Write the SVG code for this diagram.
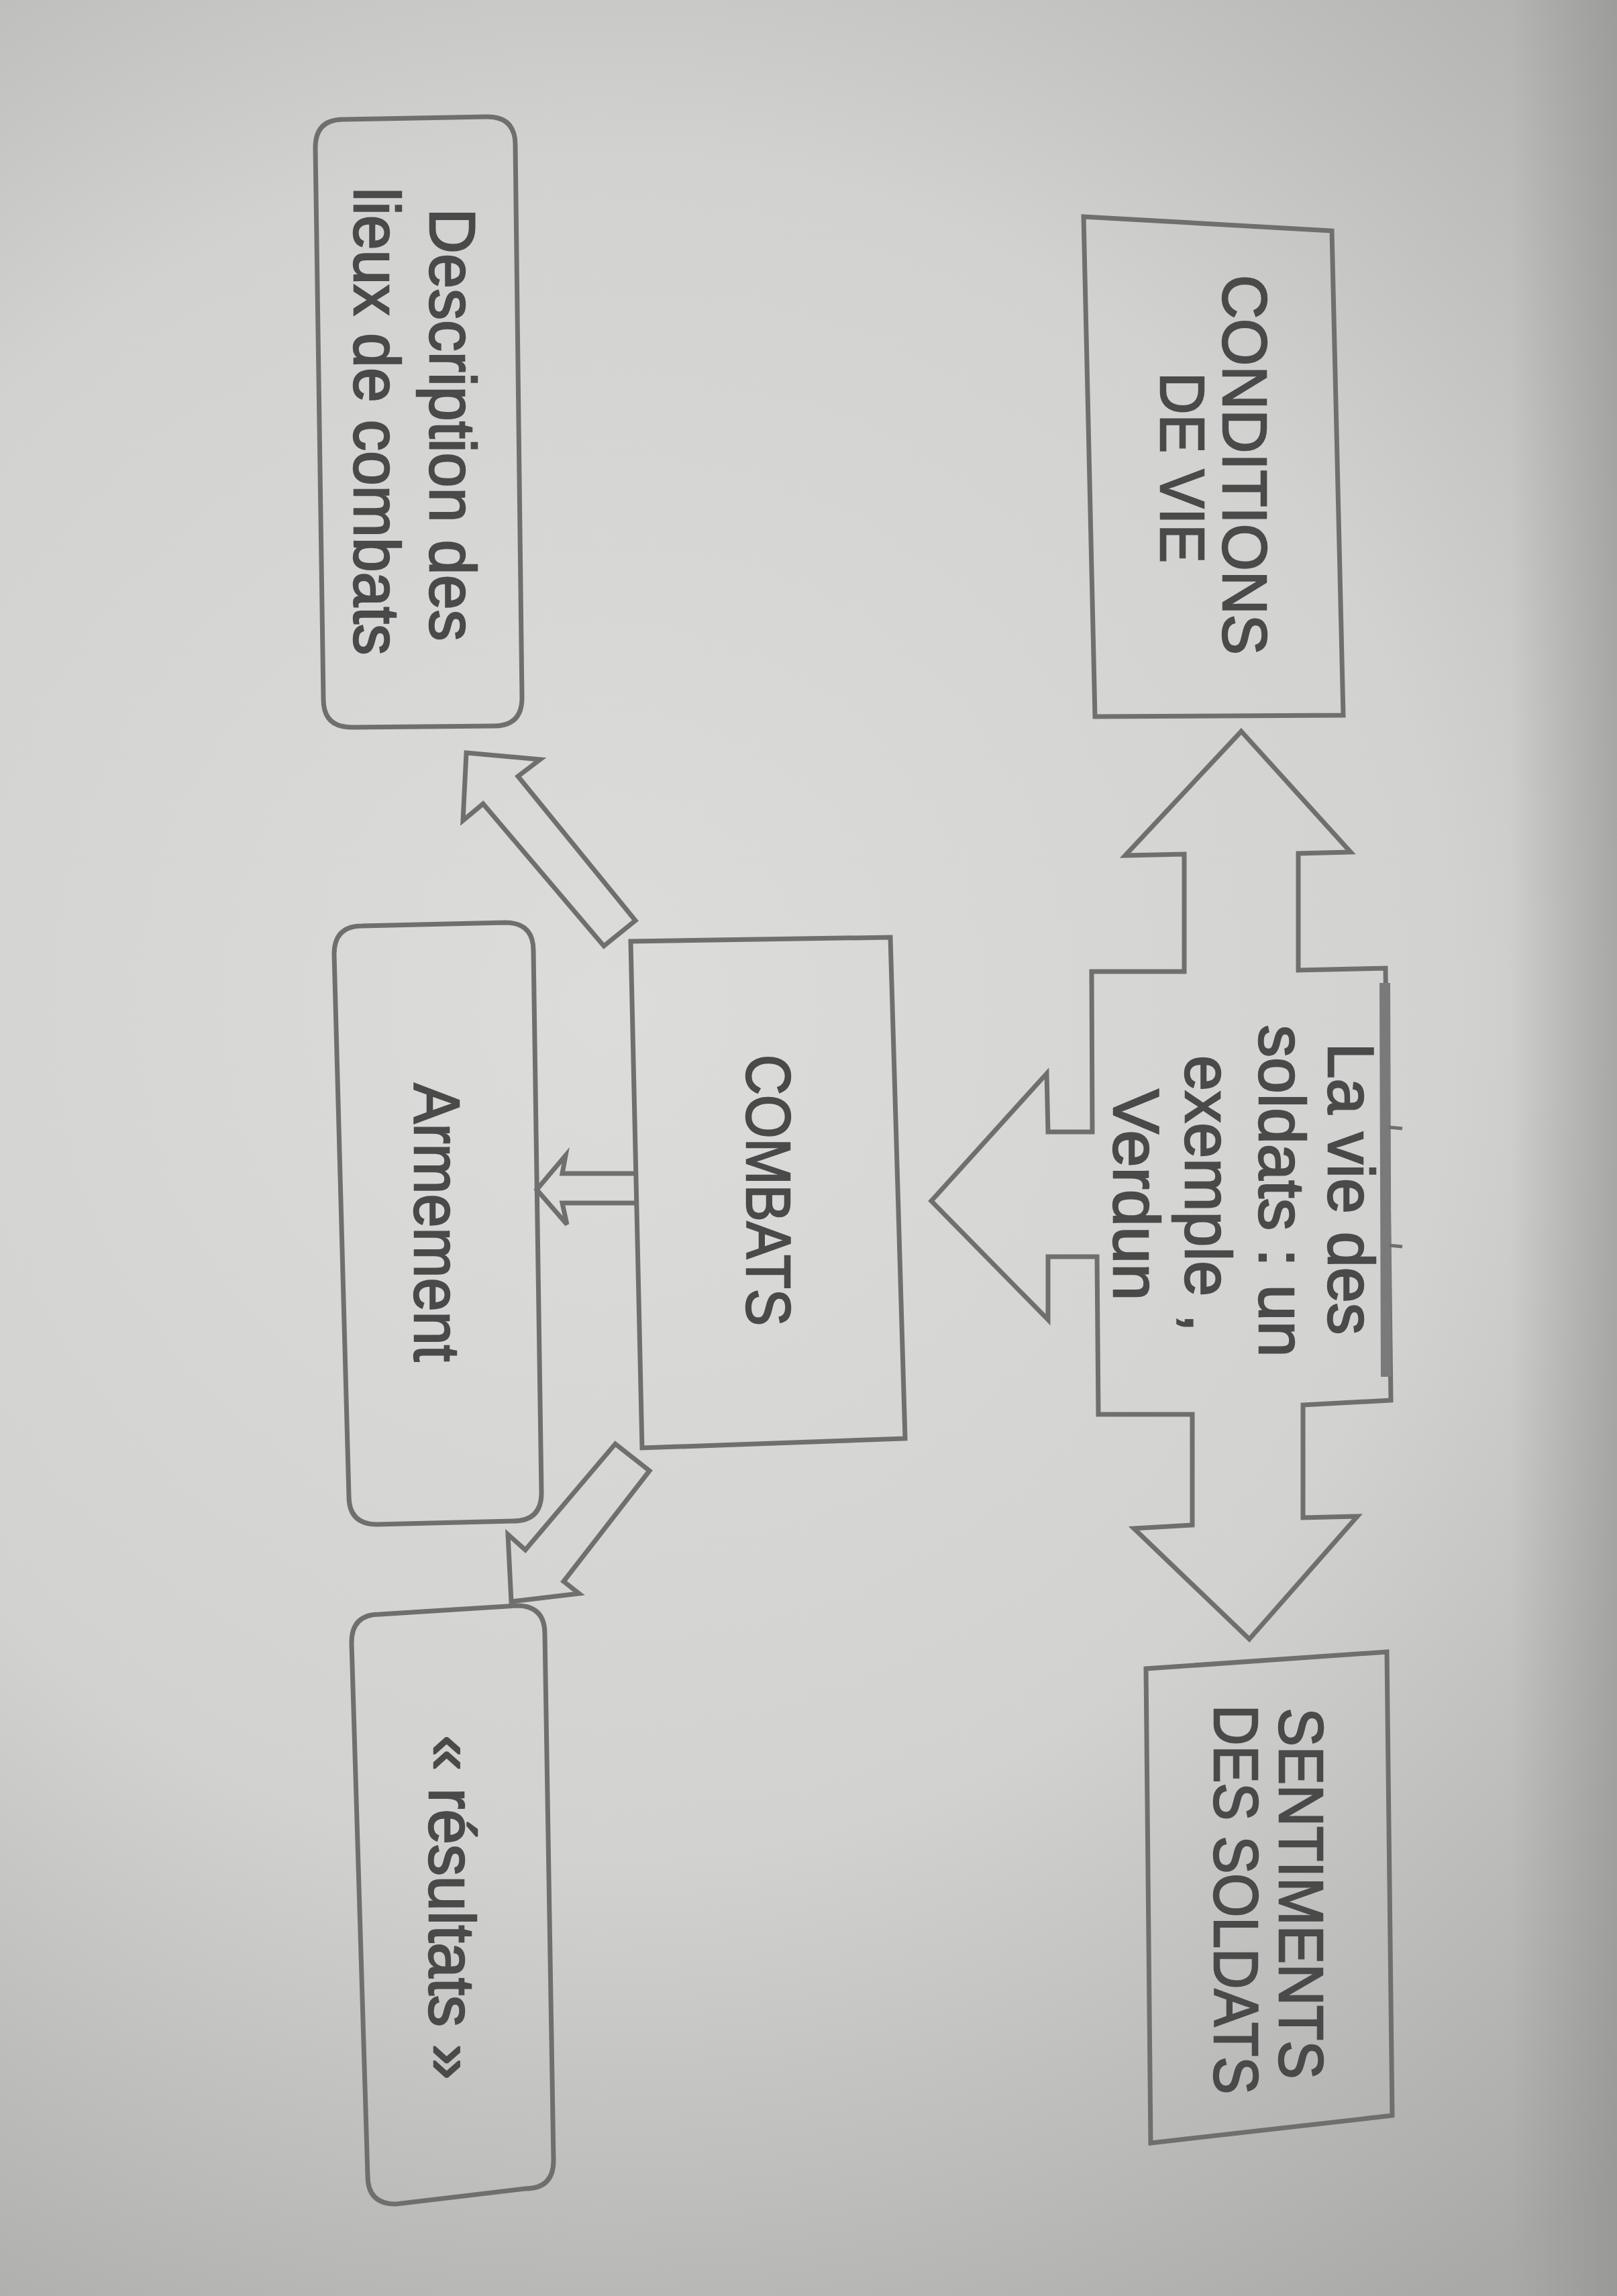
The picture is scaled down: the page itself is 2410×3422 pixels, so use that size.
<svg xmlns="http://www.w3.org/2000/svg" width="2410" height="3422" viewBox="0 0 2410 3422">
<defs>
<radialGradient id="paper" cx="900" cy="1500" r="2300" gradientUnits="userSpaceOnUse">
<stop offset="0" stop-color="#dcdcda"/>
<stop offset="0.55" stop-color="#d2d2d0"/>
<stop offset="1" stop-color="#a9a9a7"/>
</radialGradient>
<linearGradient id="edge" x1="2250" y1="0" x2="2410" y2="0" gradientUnits="userSpaceOnUse">
<stop offset="0" stop-color="#8c8c8a" stop-opacity="0"/>
<stop offset="1" stop-color="#8c8c8a" stop-opacity="0.55"/>
</linearGradient>
</defs>
<style>
.ln{fill:none;stroke:#6f6f6f;stroke-width:7;stroke-linejoin:miter}
.t{font-family:"Liberation Sans",Arial,sans-serif;font-size:96px;fill:#4a4a4a;stroke:#4a4a4a;stroke-width:2.5;text-anchor:middle}
.c{font-size:92px}
</style>
<rect x="0" y="0" width="2410" height="3422" fill="url(#paper)"/>
<rect x="2250" y="0" width="160" height="3422" fill="url(#edge)"/>

<g id="connectors">
<polygon class="ln" points="695,1122 805,1132 772,1157 947,1372 900,1410 720,1198 690,1223"/>
<polyline class="ln" points="948,1749 838,1749 843,1722 800,1773 845,1825 838,1793 948,1793"/>
<polygon class="ln" points="917,2152 968,2192 840,2357 863,2375 762,2387 757,2287 783,2310"/>
</g>

<g id="conditions">
<polygon class="ln" points="1615,323 1985,344 2002,1066 1632,1068"/>
<text class="t c" transform="translate(1823,693) rotate(90)" textLength="566" lengthAdjust="spacingAndGlyphs">CONDITIONS</text>
<text class="t c" transform="translate(1730,697) rotate(90)" textLength="284" lengthAdjust="spacingAndGlyphs">DE VIE</text>
</g>

<g id="description">
<path class="ln" d="M512,178 L726,174 Q768,174 768,216 L778,1040 Q778,1082 736,1082 L524,1084 Q482,1084 482,1042 L470,220 Q470,178 512,178 Z"/>
<text class="t" transform="translate(641,633) rotate(90)" textLength="645" lengthAdjust="spacingAndGlyphs">Description des</text>
<text class="t" transform="translate(528,628) rotate(90)" textLength="697" lengthAdjust="spacingAndGlyphs">lieux de combats</text>
</g>

<g id="verdun">
<polygon class="ln" points="1850,1090 2013,1270 1935,1272 1935,1446 2065,1443 2073,2087 1942,2094 1942,2262 2023,2260 1862,2443 1690,2278 1777,2273 1777,2108 1637,2108 1635,1873 1562,1873 1562,1967 1388,1790 1560,1600 1562,1687 1628,1687 1627,1448 1765,1448 1765,1273 1677,1275"/>
<line x1="2064" y1="1465" x2="2066" y2="2052" stroke="#7a7a7a" stroke-width="16"/>
<line x1="2070" y1="1680" x2="2090" y2="1682" stroke="#6f6f6f" stroke-width="5"/>
<line x1="2070" y1="1856" x2="2090" y2="1858" stroke="#6f6f6f" stroke-width="5"/>
<text class="t" transform="translate(1980,1772) rotate(90)" textLength="435" lengthAdjust="spacingAndGlyphs">La vie des</text>
<text class="t" transform="translate(1877,1775) rotate(90)" textLength="495" lengthAdjust="spacingAndGlyphs">soldats : un</text>
<text class="t" transform="translate(1767,1779) rotate(90)" textLength="412" lengthAdjust="spacingAndGlyphs">exemple ,</text>
<text class="t" transform="translate(1660,1781) rotate(90)" textLength="315" lengthAdjust="spacingAndGlyphs">Verdun</text>
</g>

<g id="sentiments">
<polygon class="ln" points="1708,2487 2067,2462 2075,3153 1715,3194"/>
<text class="t c" transform="translate(1907,2822) rotate(90)" textLength="553" lengthAdjust="spacingAndGlyphs">SENTIMENTS</text>
<text class="t c" transform="translate(1810,2831) rotate(90)" textLength="580" lengthAdjust="spacingAndGlyphs">DES SOLDATS</text>
</g>

<g id="combats">
<polygon class="ln" points="940,1403 1327,1397 1349,2144 957,2158"/>
<text class="t c" transform="translate(1113,1774) rotate(90)" textLength="404" lengthAdjust="spacingAndGlyphs">COMBATS</text>
</g>

<g id="armement">
<path class="ln" d="M540,1380 L753,1375 Q795,1375 795,1417 L807,2225 Q807,2267 765,2267 L562,2272 Q520,2272 520,2230 L498,1422 Q498,1380 540,1380 Z"/>
<text class="t" transform="translate(618,1822) rotate(90)" textLength="415" lengthAdjust="spacingAndGlyphs">Armement</text>
</g>

<g id="resultats">
<path class="ln" d="M566,2406 L770,2393 Q812,2393 812,2435 L825,3220 Q825,3262 783,3262 L590,3285 Q548,3285 548,3243 L524,2448 Q524,2406 566,2406 Z"/>
<text class="t" transform="translate(640,2843) rotate(90)" textLength="513" lengthAdjust="spacingAndGlyphs">« résultats »</text>
</g>
</svg>
